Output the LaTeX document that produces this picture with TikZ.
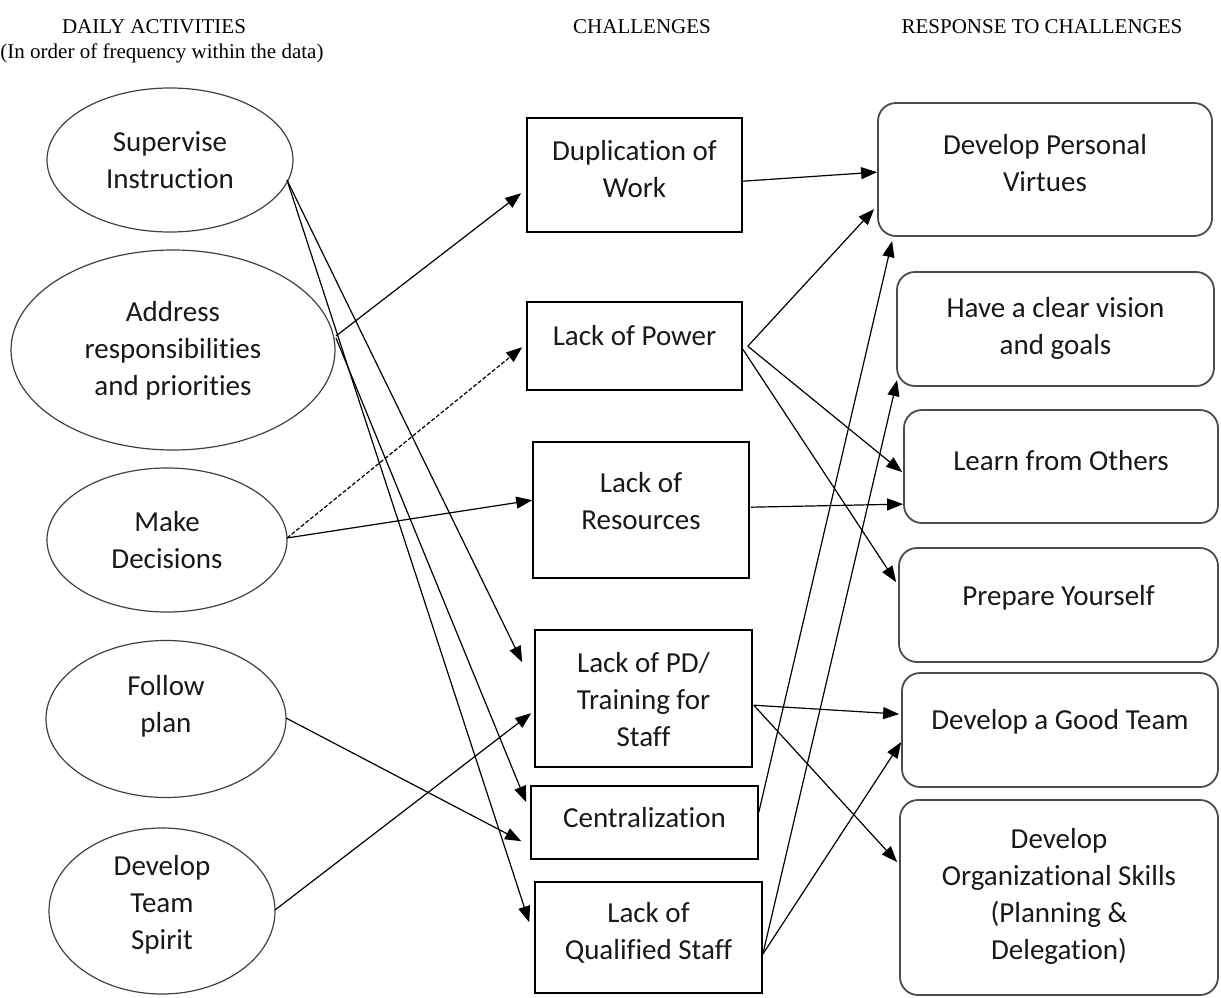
\documentclass[tikz,border=0pt]{standalone}
\usepackage{fontspec}
\setmainfont{Carlito}[RawFeature={-liga,-clig,-calt,-dlig}]
\newfontfamily\hdrfont{Liberation Serif}
\usetikzlibrary{arrows.meta,shapes.geometric}
\begin{document}
\begin{tikzpicture}[x=1pt,y=-1pt,
  ell/.style={ellipse, draw=black!75, line width=1.2pt, inner sep=0pt},
  chal/.style={rectangle, draw=black, line width=1.6pt, inner sep=0pt},
  resp/.style={rectangle, rounded corners=18pt, draw=black!70, line width=1.8pt, inner sep=0pt},
  lbl/.style={align=center, font=\fontsize{29}{37}\selectfont, text=black!90, inner sep=0pt},
  hdr/.style={font=\hdrfont\fontsize{21}{26}\selectfont, inner sep=0pt},
  conn/.style={line width=1.2pt, -{Triangle[length=16pt,width=12pt]}},
  dconn/.style={conn, dash pattern=on 4pt off 2pt}]
\useasboundingbox (0,0) rectangle (1221,998);

% headers
\node[hdr] (h1) at (154,27) {DAILY ACTIVITIES};
\node[hdr] (h2) at (162,53) {(In order of frequency within the data)};
\node[hdr] (h3) at (642,27) {CHALLENGES};
\node[hdr] (h4) at (1042,27) {RESPONSE TO CHALLENGES};

% daily activities
\node[ell, minimum width=246pt, minimum height=144pt] (e1) at (170,160) {};
\node[ell, minimum width=324pt, minimum height=200pt] (e2) at (173,350) {};
\node[ell, minimum width=240pt, minimum height=144pt] (e3) at (167,540) {};
\node[ell, minimum width=240pt, minimum height=157pt] (e4) at (166,719) {};
\node[ell, minimum width=226pt, minimum height=166pt] (e5) at (162,911) {};
\node[lbl] (te1) at (170,160.5) {Supervise\\Instruction};
\node[lbl] (te2) at (173,351) {Address\\responsibilities\\and priorities};
\node[lbl] (te3) at (167,540) {Make\\Decisions};
\node[lbl] (te4) at (166,706.5) {Follow\\plan};
\node[lbl] (te5) at (162,905) {Develop\\Team\\Spirit};

% challenges
\node[chal, minimum width=215pt, minimum height=114pt] (c1) at (634.5,175) {};
\node[chal, minimum width=215pt, minimum height=88pt] (c2) at (634.5,346) {};
\node[chal, minimum width=216pt, minimum height=136pt] (c3) at (641,510) {};
\node[chal, minimum width=217pt, minimum height=137pt] (c4) at (643.5,698.5) {};
\node[chal, minimum width=227pt, minimum height=73pt] (c5) at (644.5,822.5) {};
\node[chal, minimum width=227pt, minimum height=111pt] (c6) at (648.5,937.5) {};
\node[lbl] (tc1) at (634.5,169.5) {Duplication of\\Work};
\node[lbl] (tc2) at (634.5,336) {Lack of Power};
\node[lbl] (tc3) at (641,501.5) {Lack of\\Resources};
\node[lbl] (tc4) at (643.5,700) {Lack of PD/\\Training for\\Staff};
\node[lbl] (tc5) at (644.5,818) {Centralization};
\node[lbl] (tc6) at (648.5,933) {Lack of\\Qualified Staff};

% responses
\node[resp, minimum width=334pt, minimum height=133pt] (r1) at (1045,169.5) {};
\node[resp, minimum width=317pt, minimum height=114pt] (r2) at (1055.5,329) {};
\node[resp, minimum width=314pt, minimum height=113pt] (r3) at (1061,466.5) {};
\node[resp, minimum width=319pt, minimum height=114pt] (r4) at (1058.5,605) {};
\node[resp, minimum width=316pt, minimum height=114pt] (r5) at (1060,730) {};
\node[resp, minimum width=318pt, minimum height=195pt] (r6) at (1059,897.5) {};
\node[lbl] (tr1) at (1045,163) {Develop Personal\\Virtues};
\node[lbl] (tr2) at (1055.5,328.5) {Have a clear vision\\and goals};
\node[lbl] (tr3) at (1061,461) {Learn from Others};
\node[lbl] (tr4) at (1058.5,598) {Prepare Yourself};
\node[lbl] (tr5) at (1060,722) {Develop a Good Team};
\node[lbl] (tr6) at (1059,896) {Develop\\Organizational Skills\\(Planning \&\\Delegation)};

% connectors: activities -> challenges
\draw[conn] ([shift={(117,20)}]e1.center) -- ([shift={(-12,33)}]c4.north west);
\draw[conn] ([shift={(117,20)}]e1.center) -- ([shift={(-5,41)}]c6.north west);
\draw[conn] ([shift={(163,-14)}]e2.center) -- ([shift={(-5,76)}]c1.north west);
\draw[conn] ([shift={(163,-12)}]e2.center) -- ([shift={(-4,17)}]c5.north west);
\draw[dconn] ([shift={(120,-2)}]e3.center) -- ([shift={(-4,46)}]c2.north west);
\draw[conn] ([shift={(120,-2)}]e3.center) -- ([shift={(0,59)}]c3.north west);
\draw[conn] ([shift={(120,-1)}]e4.center) -- ([shift={(-9,56)}]c5.north west);
\draw[conn] ([shift={(113,-1)}]e5.center) -- ([shift={(-3,84)}]c4.north west);

% connectors: challenges -> responses
\draw[conn] ([shift={(0,64)}]c1.north east) -- ([shift={(0,70)}]r1.north west);
\draw[conn] ([shift={(5,45)}]c2.north east) -- ([shift={(-3,107)}]r1.north west);
\draw[conn] ([shift={(5,45)}]c2.north east) -- ([shift={(-1,63)}]r3.north west);
\draw[conn] ([shift={(0,48)}]c2.north east) -- ([shift={(-2,35)}]r4.north west);
\draw[conn] ([shift={(1,66)}]c3.north east) -- ([shift={(0,95)}]r3.north west);
\draw[conn] ([shift={(1,76)}]c4.north east) -- ([shift={(-2,42)}]r5.north west);
\draw[conn] ([shift={(1,76)}]c4.north east) -- ([shift={(-2,63)}]r6.north west);
\draw[conn] ([shift={(0,27)}]c5.north east) -- ([shift={(15,139)}]r1.north west);
\draw[conn] ([shift={(0,73)}]c6.north east) -- ([shift={(1,109)}]r2.north west);
\draw[conn] ([shift={(0,73)}]c6.north east) -- ([shift={(0,70)}]r5.north west);
\end{tikzpicture}
\end{document}
